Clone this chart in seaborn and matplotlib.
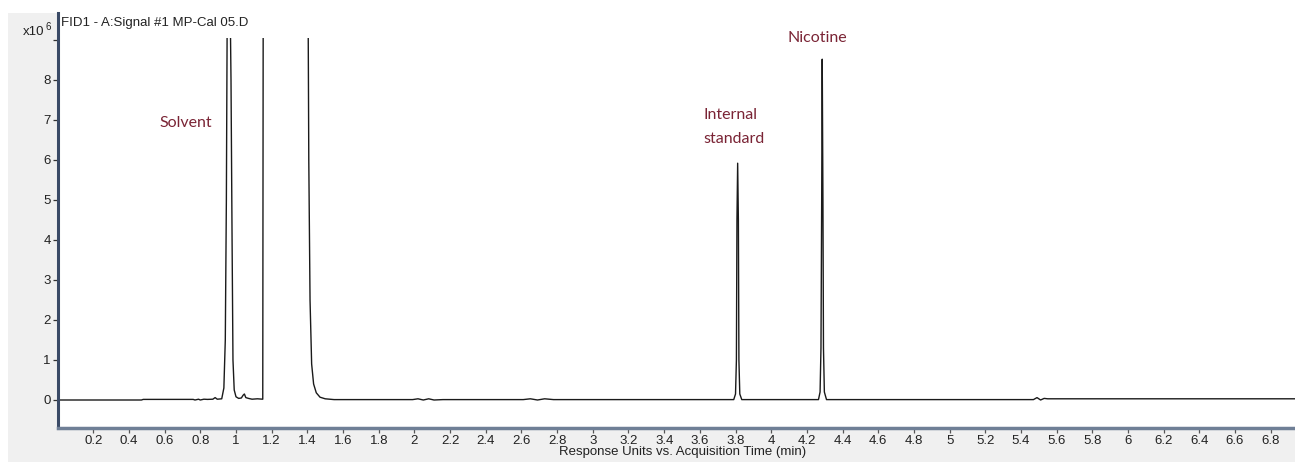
import numpy as np
import pandas as pd
import matplotlib
matplotlib.use("Agg")
import matplotlib.pyplot as plt
from matplotlib.patches import Rectangle
import seaborn as sns

# ---- data (time in min, signal in x10^6 response units) ----
time_min = [0.00, 0.47, 0.48, 0.76, 0.77, 0.79, 0.80, 0.82, 0.84, 0.87, 0.883, 0.895, 0.92,
            0.932, 0.940, 0.946, 0.953, 0.962, 0.972, 0.978, 0.983, 0.990, 1.000, 1.015,
            1.030, 1.040, 1.047, 1.055, 1.070, 1.090, 1.120, 1.150, 1.153, 1.402, 1.408,
            1.415, 1.424, 1.435, 1.450, 1.471, 1.500, 1.550, 1.99, 2.02, 2.05, 2.08, 2.11,
            2.16, 2.61, 2.65, 2.69, 2.73, 2.78, 3.790, 3.800, 3.805, 3.808, 3.812, 3.816,
            3.819, 3.824, 3.835, 4.265, 4.274, 4.279, 4.283, 4.286, 4.290, 4.293, 4.298,
            4.310, 5.47, 5.49, 5.51, 5.53, 5.55, 6.94]
signal_e6 = [0.00, 0.00, 0.015, 0.015, 0.00, 0.02, 0.00, 0.02, 0.015, 0.02, 0.06, 0.02, 0.03,
             0.30, 1.50, 5.00, 12.0, 12.0, 8.00, 4.00, 1.00, 0.25, 0.08, 0.04,
             0.05, 0.12, 0.15, 0.06, 0.04, 0.02, 0.03, 0.02, 12.0, 12.0, 6.00,
             2.50, 0.90, 0.40, 0.18, 0.07, 0.03, 0.01, 0.01, 0.03, 0.00, 0.03, 0.00,
             0.01, 0.01, 0.03, 0.00, 0.03, 0.01, 0.01, 0.15, 1.00, 4.50, 5.92, 4.50,
             1.00, 0.15, 0.01, 0.01, 0.20, 1.30, 5.00, 8.52, 5.00, 1.30, 0.20,
             0.01, 0.01, 0.06, 0.00, 0.04, 0.03, 0.03]

peak_names = ["Solvent", "Internal\nstandard", "Nicotine"]
x_ticks = [0.2, 0.4, 0.6, 0.8, 1, 1.2, 1.4, 1.6, 1.8, 2, 2.2, 2.4, 2.6, 2.8, 3, 3.2, 3.4,
           3.6, 3.8, 4, 4.2, 4.4, 4.6, 4.8, 5, 5.2, 5.4, 5.6, 5.8, 6, 6.2, 6.4, 6.6, 6.8]
x_tick_labels = ["%g" % v for v in x_ticks]
y_ticks = [0, 1, 2, 3, 4, 5, 6, 7, 8, 9]
y_tick_labels = ["0", "1", "2", "3", "4", "5", "6", "7", "8", ""]
title = "FID1 - A:Signal #1 MP-Cal 05.D"
x_label = "Response Units vs. Acquisition Time (min)"

df = pd.DataFrame({"time": time_min, "signal": signal_e6})

sns.set_style("white")
plt.rcParams["font.family"] = ["Liberation Sans", "DejaVu Sans"]

W, H = 1295, 462
fig = plt.figure(figsize=(W / 100, H / 100), dpi=100, facecolor="white")

# grey instrument panel behind the plot
fig.patches.append(Rectangle((8 / W, 0), 1 - 8 / W, 1 - 13 / H, transform=fig.transFigure,
                             facecolor="#f0f0f0", edgecolor="none", zorder=-5))

x0 = 57.6
ax = fig.add_axes([x0 / W, (H - 428) / H, (W - x0) / W, (428 - 13) / H])
ax.set_zorder(2)
ax.set_facecolor("white")

line_ax = sns.lineplot(data=df, x="time", y="signal", estimator=None, sort=False,
                       color="#1a1a1a", linewidth=1.0, ax=ax)
ln = line_ax.lines[0]
ln.set_clip_path(Rectangle((-1, -1), 20, 10.05, transform=ax.transData))

ax.set_xlim(0, (W - x0) / 178.4)
ax.set_ylim(-0.7, 9.675)

ax.set_xticks(x_ticks)
ax.set_xticklabels(x_tick_labels)
ax.set_yticks(y_ticks)
ax.set_yticklabels(y_tick_labels)
ax.tick_params(axis="x", direction="out", length=3.5, width=0.9, color="#555555",
               labelsize=9.5, labelcolor="#222222", pad=1.5, bottom=True)
ax.tick_params(axis="y", direction="out", length=3.5, width=0.9, color="#333333",
               labelsize=9.5, labelcolor="#222222", pad=1.5, left=True)

for s in ["top", "right"]:
    ax.spines[s].set_visible(False)
ax.spines["left"].set_color("#3a4a66")
ax.spines["left"].set_linewidth(2.2)
ax.spines["bottom"].set_color("#6f7f96")
ax.spines["bottom"].set_linewidth(2.5)

ax.set_xlabel(x_label, fontsize=9.5, color="#222222")
ax.set_ylabel("")
ax.xaxis.label.set_va("center")
ax.xaxis.set_label_coords((683 - x0) / (W - x0), (428 - 452) / (428 - 13))

# header texts
fig.text(61 / W, 1 - 23 / H, title, fontsize=9.5, color="#222222", ha="left", va="center",
         zorder=5)
fig.text(44 / W, 1 - 32 / H, "x10", fontsize=9.5, color="#222222", ha="right", va="center",
         zorder=5)
fig.text(46 / W, 1 - 27 / H, "6", fontsize=7, color="#222222", ha="left", va="center",
         zorder=5)

# peak annotations
ann_color = "#7a2435"
ann_font = ["Lato", "DejaVu Sans"]
ax.text(0.72, (400 - 123) / 40, peak_names[0], family=ann_font, fontsize=11.5,
        color=ann_color, ha="center", va="center")
ax.text(3.62, (400 - 127) / 40, peak_names[1], family=ann_font, fontsize=11.5,
        color=ann_color, ha="left", va="center", linespacing=1.95)
ax.text(4.26, (400 - 38) / 40, peak_names[2], family=ann_font, fontsize=11.5,
        color=ann_color, ha="center", va="center")

fig.savefig("out.png", dpi=100, facecolor=fig.get_facecolor())
